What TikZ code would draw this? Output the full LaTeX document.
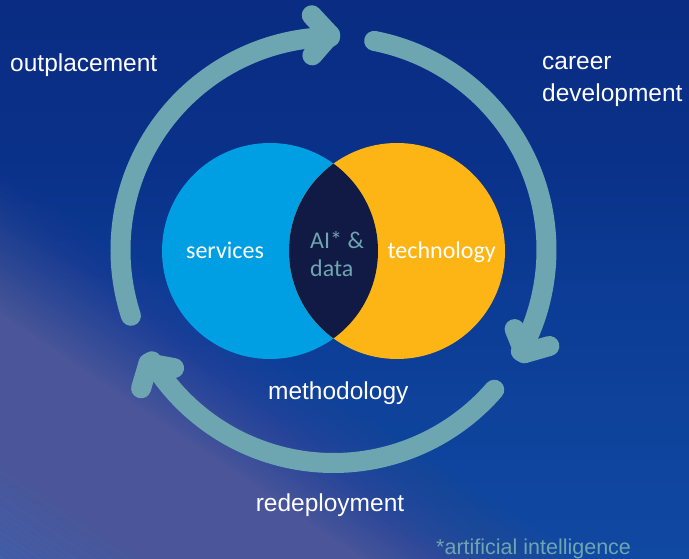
\documentclass[tikz,border=0pt]{standalone}
\usepackage{fontspec}
\setmainfont{Liberation Sans}
\newfontfamily\carl{Carlito}
\usetikzlibrary{calc}
\definecolor{ringc}{HTML}{6DA5B1}
\definecolor{svcblue}{HTML}{009FE3}
\definecolor{techyel}{HTML}{FDB515}
\definecolor{lensc}{HTML}{111A44}
\definecolor{bgTop}{HTML}{0A2C83}
\definecolor{bgUp}{HTML}{0A3189}
\definecolor{bgMid}{HTML}{0C3D96}
\definecolor{bgLow}{HTML}{1049A2}
\definecolor{bgP}{HTML}{4A5699}
\definecolor{bgCorner}{HTML}{3F5FAC}
\newcommand\bgseg[4]{%
  \foreach \i in {0,...,19}{%
    \pgfmathsetmacro\p{100*\i/19}%
    \pgfmathsetmacro\ya{#1+(#2-#1)*\i/20}%
    \pgfmathsetmacro\yb{#1+(#2-#1)*(\i+1)/20+0.8}%
    \fill[#4!\p!#3] (-800,\ya) rectangle (800,\yb);
  }}
\tikzset{
  ring/.style={draw=ringc, line width=20pt, line cap=round, line join=round},
  lbl/.style={text=white, font=\fontsize{24.5}{29}\selectfont, inner sep=0pt},
  ctext/.style={font=\carl\fontsize{24}{28}\selectfont, inner sep=0pt},
  venn/.style={circle, minimum size=216pt, inner sep=0pt},
}
\begin{document}
\begin{tikzpicture}[x=1pt,y=1pt]
\useasboundingbox (0,0) rectangle (689,559);
% background
\begin{scope}
  \clip (0,0) rectangle (689,559);
  \bgseg{0}{250}{bgLow}{bgMid}
  \bgseg{250}{400}{bgMid}{bgUp}
  \bgseg{400}{560}{bgUp}{bgTop}
  \begin{scope}[shift={(344.5,279.5)}, rotate=-34]
    \foreach \k in {1,...,36}{%
      \pgfmathsetmacro\tk{-100-120*(\k-1)/35}%
      \pgfmathsetmacro\ok{1/(37-\k)}%
      \fill[bgP, opacity=\ok] (-800,-800) rectangle (800,\tk);
    }
    \bgseg{-340}{-440}{bgP}{bgCorner}
    \fill[bgCorner] (-800,-800) rectangle (800,-439);
  \end{scope}
\end{scope}
% cycle ring
\coordinate (C) at (333.5,309);
\coordinate (L0) at ($(C)+(198:213)$);
\coordinate (V1) at ($(C)+(90.9:215)$);
\coordinate (V1a) at ($(V1)+(228.9:27)$);
\coordinate (V1b) at ($(V1)+(132.9:27)$);
\coordinate (R0) at ($(C)+(79:213)$);
\coordinate (V2) at ($(C)+(-28.4:217)$);
\coordinate (V2a) at ($(V2)+(112:26)$);
\coordinate (V2b) at ($(V2)+(16:26)$);
\coordinate (B0) at ($(C)+(-41:213)$);
\coordinate (V3) at ($(C)+(-148.5:217)$);
\coordinate (V3a) at ($(V3)+(-10.5:26)$);
\coordinate (V3b) at ($(V3)+(-106.5:26)$);
\draw[ring] (L0) arc[start angle=198, end angle=90.9, radius=213] -- (V1);
\draw[ring] (V1a) -- (V1) -- (V1b);
\draw[ring] (R0) arc[start angle=79, end angle=-28.4, radius=213] -- (V2);
\draw[ring] (V2a) -- (V2) -- (V2b);
\draw[ring] (B0) arc[start angle=-41, end angle=-148.5, radius=213] -- (V3);
\draw[ring] (V3a) -- (V3) -- (V3b);
% venn
\node[venn, fill=svcblue] (svc) at (270,308) {};
\node[venn, fill=techyel] (tech) at (397,308) {};
\begin{scope}
  \clip (svc.center) circle[radius=108];
  \fill[lensc] (tech.center) circle[radius=108];
\end{scope}
% texts
\node[ctext, text=white, anchor=base] (tsvc) at (225,300.7) {services};
\node[ctext, text=white, anchor=base] (ttech) at (441.7,300.7) {technology};
\node[ctext, text=ringc, anchor=base west] (tai) at (310,310.7) {AI* \&};
\node[ctext, text=ringc, anchor=base west] (tdata) at (310,282.3) {data};
\node[lbl, anchor=base west] (tout) at (10,487) {outplacement};
\node[lbl, anchor=base west] (tcar) at (542,489) {career};
\node[lbl, anchor=base west] (tdev) at (542,457.3) {development};
\node[lbl, anchor=base] (tmeth) at (338.3,159) {methodology};
\node[lbl, anchor=base] (tred) at (330,47.5) {redeployment};
\node[text=ringc, font=\fontsize{21.5}{25}\selectfont, inner sep=0pt, anchor=base west] (tfoot) at (436,4) {*artificial intelligence};
\end{tikzpicture}
\end{document}
